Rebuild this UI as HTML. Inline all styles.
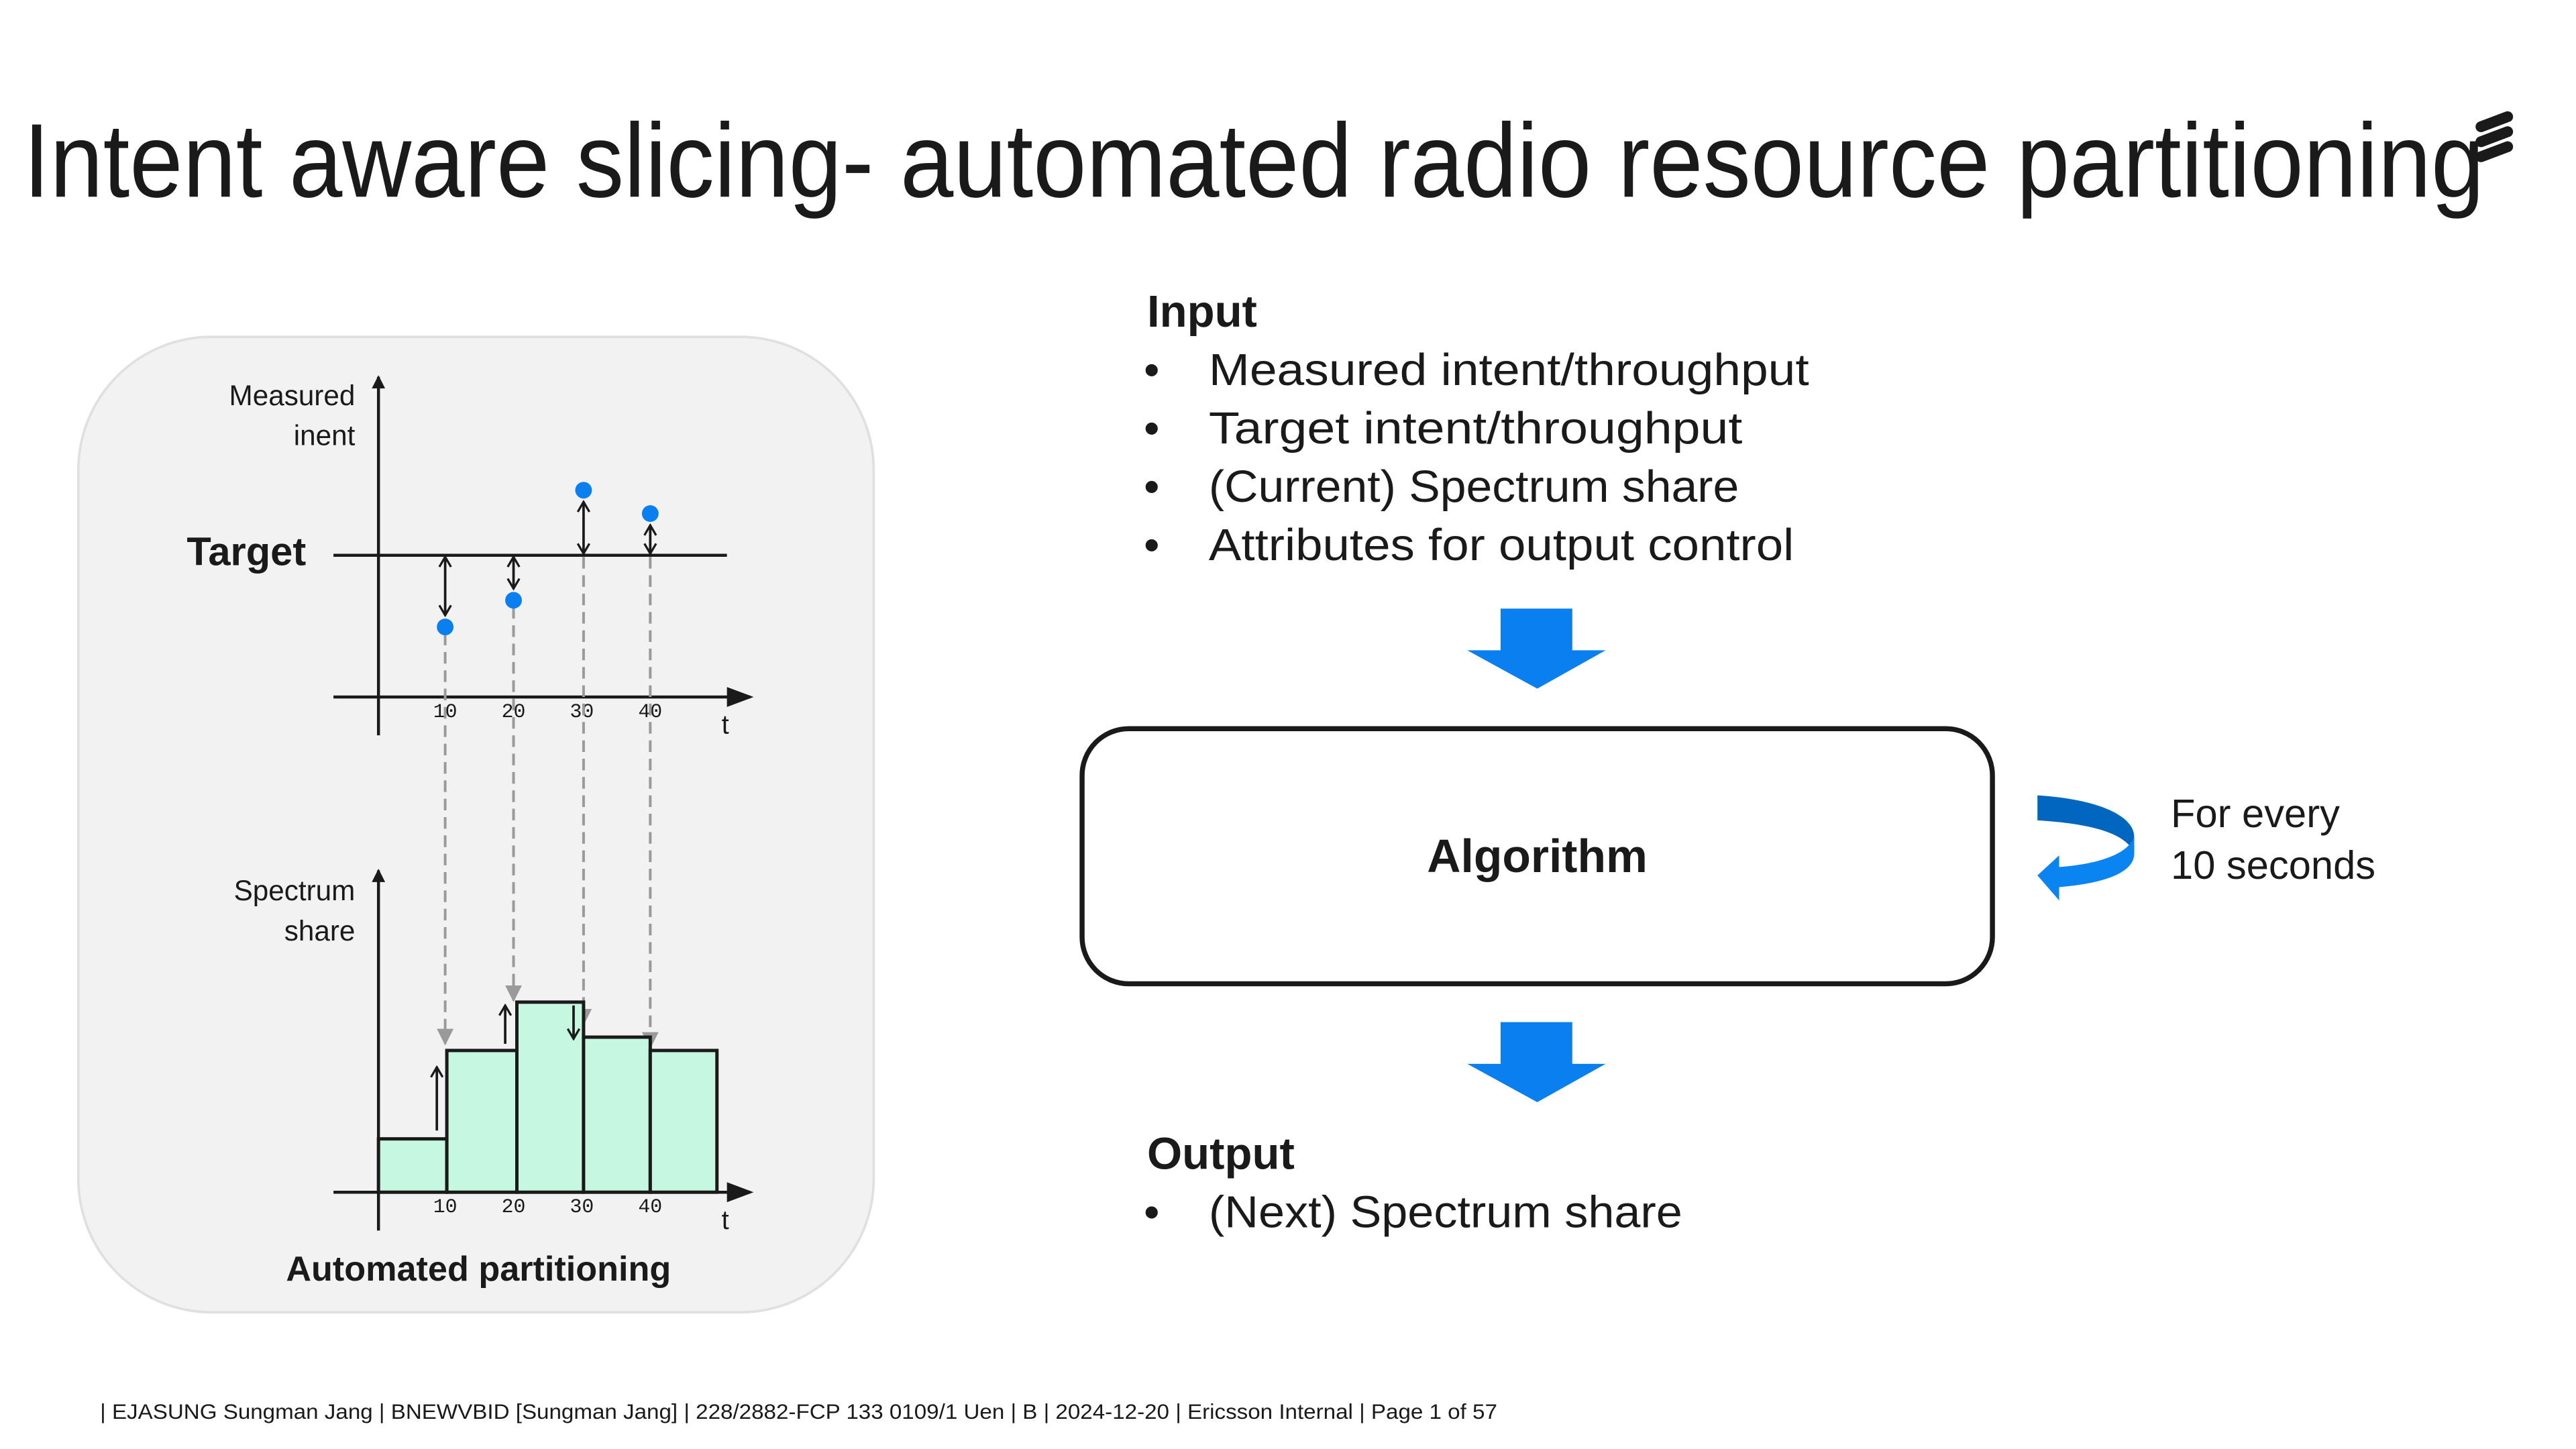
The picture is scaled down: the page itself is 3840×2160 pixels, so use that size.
<!DOCTYPE html>
<html><head><meta charset="utf-8"><style>html,body{margin:0;padding:0;background:#fff}svg{display:block}</style></head>
<body>
<svg width="3840" height="2160" viewBox="0 0 1545 869" preserveAspectRatio="none" xmlns="http://www.w3.org/2000/svg" font-family="Liberation Sans, DejaVu Sans, sans-serif">
<defs>
<marker id="ah" markerWidth="8" markerHeight="8" refX="7" refY="4" orient="auto" markerUnits="userSpaceOnUse"><path d="M0,0 L8,4 L0,8 z" fill="#1a1a1a"/></marker>
<marker id="ah2" markerWidth="16" markerHeight="12" refX="14" refY="6" orient="auto" markerUnits="userSpaceOnUse"><path d="M0,0 L16,6 L0,12 z" fill="#1a1a1a"/></marker>
<marker id="op" markerWidth="8" markerHeight="8" refX="7" refY="4" orient="auto-start-reverse" markerUnits="userSpaceOnUse"><path d="M1,0.5 L7,4 L1,7.5" fill="none" stroke="#1a1a1a" stroke-width="1.3"/></marker>
<marker id="gh" markerWidth="10" markerHeight="10" refX="9" refY="5" orient="auto" markerUnits="userSpaceOnUse"><path d="M0,0 L10,5 L0,10 z" fill="#9a9a9a"/></marker>
</defs>
<text x="14" y="118" font-size="63" fill="#1a1a1a" textLength="1476" lengthAdjust="spacingAndGlyphs">Intent aware slicing- automated radio resource partitioning</text>
<g stroke="#1a1a1a" stroke-width="6.5" stroke-linecap="round">
<line x1="1488" y1="76" x2="1504" y2="70"/><line x1="1488" y1="85" x2="1504" y2="79"/><line x1="1488" y1="94" x2="1504" y2="88"/>
</g>
<rect x="47" y="202" width="477" height="585" rx="80" fill="#f2f2f2" stroke="#e0e0e0" stroke-width="1.5"/>
<text x="213" y="243" font-size="17" text-anchor="end" fill="#1a1a1a">Measured</text>
<text x="213" y="267" font-size="17" text-anchor="end" fill="#1a1a1a">inent</text>
<text x="112" y="339" font-size="24" font-weight="bold" fill="#1a1a1a">Target</text>
<line x1="227" y1="441" x2="227" y2="226" stroke="#1a1a1a" stroke-width="1.8" marker-end="url(#ah)"/>
<line x1="200" y1="333" x2="436" y2="333" stroke="#1a1a1a" stroke-width="1.8"/>
<line x1="200" y1="418" x2="450" y2="418" stroke="#1a1a1a" stroke-width="1.8" marker-end="url(#ah2)"/>
<g font-family="Liberation Mono, monospace" font-size="12" fill="#1a1a1a" text-anchor="middle">
<text x="267" y="430">10</text><text x="308" y="430">20</text><text x="349" y="430">30</text><text x="390" y="430">40</text>
<text x="267" y="727">10</text><text x="308" y="727">20</text><text x="349" y="727">30</text><text x="390" y="727">40</text>
</g>
<text x="435" y="440" font-size="16" fill="#1a1a1a" text-anchor="middle">t</text>
<text x="435" y="737" font-size="16" fill="#1a1a1a" text-anchor="middle">t</text>
<g stroke="#9a9a9a" stroke-width="1.6" stroke-dasharray="7,4" fill="none">
<line x1="267" y1="380" x2="267" y2="626" marker-end="url(#gh)"/>
<line x1="308" y1="364" x2="308" y2="600" marker-end="url(#gh)"/>
<line x1="350" y1="334" x2="350" y2="614" marker-end="url(#gh)"/>
<line x1="390" y1="334" x2="390" y2="628" marker-end="url(#gh)"/>
</g>
<g stroke="#1a1a1a" stroke-width="1.5" fill="none">
<line x1="267" y1="334" x2="267" y2="369" marker-end="url(#op)" marker-start="url(#op)"/>
<line x1="308" y1="334" x2="308" y2="353" marker-end="url(#op)" marker-start="url(#op)"/>
<line x1="350" y1="301" x2="350" y2="332" marker-end="url(#op)" marker-start="url(#op)"/>
<line x1="390" y1="315" x2="390" y2="332" marker-end="url(#op)" marker-start="url(#op)"/>
</g>
<g fill="#0a7ff0">
<circle cx="267" cy="376" r="5"/><circle cx="308" cy="360" r="5"/><circle cx="350" cy="294" r="5"/><circle cx="390" cy="308" r="5"/>
</g>
<text x="213" y="540" font-size="17" text-anchor="end" fill="#1a1a1a">Spectrum</text>
<text x="213" y="564" font-size="17" text-anchor="end" fill="#1a1a1a">share</text>
<g fill="#c6f7e0" stroke="#1a1a1a" stroke-width="2">
<rect x="227" y="683" width="41" height="32"/>
<rect x="268" y="630" width="42" height="85"/>
<rect x="310" y="601" width="40" height="114"/>
<rect x="350" y="622" width="40" height="93"/>
<rect x="390" y="630" width="40" height="85"/>
</g>
<line x1="227" y1="738" x2="227" y2="522" stroke="#1a1a1a" stroke-width="1.8" marker-end="url(#ah)"/>
<line x1="200" y1="715" x2="450" y2="715" stroke="#1a1a1a" stroke-width="1.8" marker-end="url(#ah2)"/>
<g stroke="#1a1a1a" stroke-width="1.5" fill="none">
<line x1="262" y1="678" x2="262" y2="640" marker-end="url(#op)"/>
<line x1="303" y1="626" x2="303" y2="603" marker-end="url(#op)"/>
<line x1="344" y1="603" x2="344" y2="623" marker-end="url(#op)"/>
</g>
<text x="287" y="768" font-size="21" font-weight="bold" text-anchor="middle" fill="#1a1a1a">Automated partitioning</text>
<g fill="#1a1a1a" font-size="27">
<text x="688" y="196" font-weight="bold">Input</text>
<text x="686" y="231">•</text><text x="725" y="231" textLength="360" lengthAdjust="spacingAndGlyphs">Measured intent/throughput</text>
<text x="686" y="266">•</text><text x="725" y="266" textLength="320" lengthAdjust="spacingAndGlyphs">Target intent/throughput</text>
<text x="686" y="301">•</text><text x="725" y="301" textLength="318" lengthAdjust="spacingAndGlyphs">(Current) Spectrum share</text>
<text x="686" y="336">•</text><text x="725" y="336" textLength="351" lengthAdjust="spacingAndGlyphs">Attributes for output control</text>
<text x="688" y="701" font-weight="bold">Output</text>
<text x="686" y="736">•</text><text x="725" y="736" textLength="284" lengthAdjust="spacingAndGlyphs">(Next) Spectrum share</text>
</g>
<path d="M900,365 H943 V390 H963 L922,413 L880,390 H900 Z" fill="#0a7ff0"/>
<path d="M900,613 H943 V638 H963 L922,661 L880,638 H900 Z" fill="#0a7ff0"/>
<rect x="649" y="437" width="546" height="153" rx="28" fill="#fff" stroke="#1a1a1a" stroke-width="3"/>
<text x="922" y="523" font-size="28" font-weight="bold" text-anchor="middle" fill="#1a1a1a">Algorithm</text>
<path d="M1222,477 C1255,479 1280,488 1280,502 L1280,512 C1276,500 1255,494 1222,492 Z" fill="#0066bf"/>
<path d="M1280,502 L1280,512 C1280,524 1260,530 1235,532 L1235,540 L1222,525 L1235,513 L1235,520 C1260,518 1276,512 1280,502 Z" fill="#0a84f0"/>
<text x="1302" y="496" font-size="24" fill="#1a1a1a">For every</text>
<text x="1302" y="527" font-size="24" fill="#1a1a1a">10 seconds</text>
<text x="60" y="851" font-size="12.5" fill="#1a1a1a" textLength="838" lengthAdjust="spacingAndGlyphs">| EJASUNG Sungman Jang  |  BNEWVBID [Sungman Jang]  |  228/2882-FCP 133 0109/1 Uen  |  B  |  2024-12-20  |  Ericsson Internal  |  Page 1 of 57</text>
</svg>
</body></html>
